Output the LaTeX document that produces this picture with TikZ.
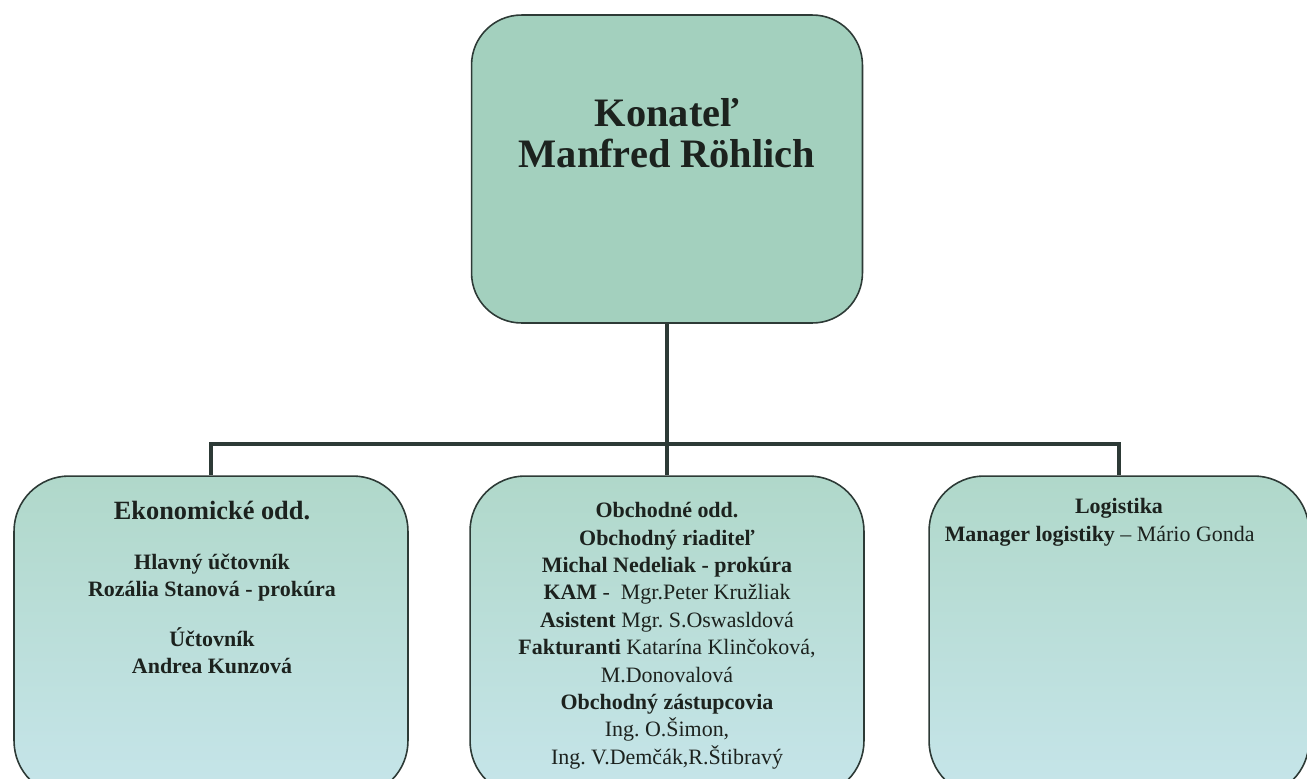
\documentclass[tikz,border=0pt]{standalone}
\usepackage{fontspec}
\setmainfont{Liberation Serif}
\frenchspacing
\definecolor{bossgreen}{RGB}{163, 208, 190}
\definecolor{depttop}{RGB}{176, 216, 202}
\definecolor{deptbottom}{RGB}{198, 229, 234}
\definecolor{linegray}{RGB}{45, 58, 54}
\definecolor{inkdark}{RGB}{28, 34, 30}

\begin{document}
\begin{tikzpicture}[x = 0.02cm, y = -0.02cm,
	bossbox/.style = {draw = linegray, line width = 0.9pt, fill = bossgreen, rounded corners = 1cm, minimum width = 7.82cm, minimum height = 6.16cm, inner sep = 0pt},
	deptbox/.style = {draw = linegray, line width = 0.9pt, top color = depttop, bottom color = deptbottom, rounded corners = 1.1cm, minimum width = 7.88cm, minimum height = 6.4cm, inner sep = 0pt},
	conn/.style = {draw = linegray, line width = 2.3pt},
	txt/.style = {anchor = north, align = center, inner sep = 0pt, text = inkdark, font = \fontsize{12.5}{15.6}\selectfont}]
			\useasboundingbox (0,0) rectangle (1307,778);
			\node (konatel) at (667,169) [bossbox] {};
			\node (ekonom) at (211,636) [deptbox] {};
			\node (obchod) at (667,636) [deptbox] {};
			\node (logist) at (1119,636) [deptbox, minimum width = 7.6cm] {};
			\coordinate (bar) at (667,444);
			\draw[conn] (konatel) -- (obchod);
			\draw[conn] (ekonom) |- (bar) -| (logist);
			\node (konateltext) at (667,98) [txt, font = \bfseries\fontsize{23}{23.5}\selectfont] {Konateľ\\Manfred Röhlich};
			\node (ektitle) at (212,501) [txt, font = \bfseries\fontsize{15}{18}\selectfont] {Ekonomické odd.};
			\node (ekhlavny) at (212,554) [txt, font = \bfseries\fontsize{12.5}{15.3}\selectfont] {Hlavný účtovník\\Rozália Stanová - prokúra};
			\node (ekuctovnik) at (212,627) [txt, font = \bfseries\fontsize{12.5}{15.3}\selectfont] {Účtovník\\Andrea Kunzová};
			\node (obchtext) at (667,502) [txt] {\textbf{Obchodné odd.}\\ \textbf{Obchodný riaditeľ}\\ \textbf{Michal Nedeliak - prokúra}\\ \textbf{KAM} -~ Mgr.Peter Kružliak\\ \textbf{Asistent} Mgr. S.Oswasldová\\ \textbf{Fakturanti} Katarína Klinčoková,\\ M.Donovalová\\ \textbf{Obchodný zástupcovia}\\ Ing. O.Šimon,\\ Ing. V.Demčák,R.Štibravý};
			\node (logtext) at (1119,498) [txt] {\textbf{Logistika}\\ \textbf{Manager logistiky} – Mário Gonda\hspace*{22pt}};
			\end{tikzpicture}
\end{document}
